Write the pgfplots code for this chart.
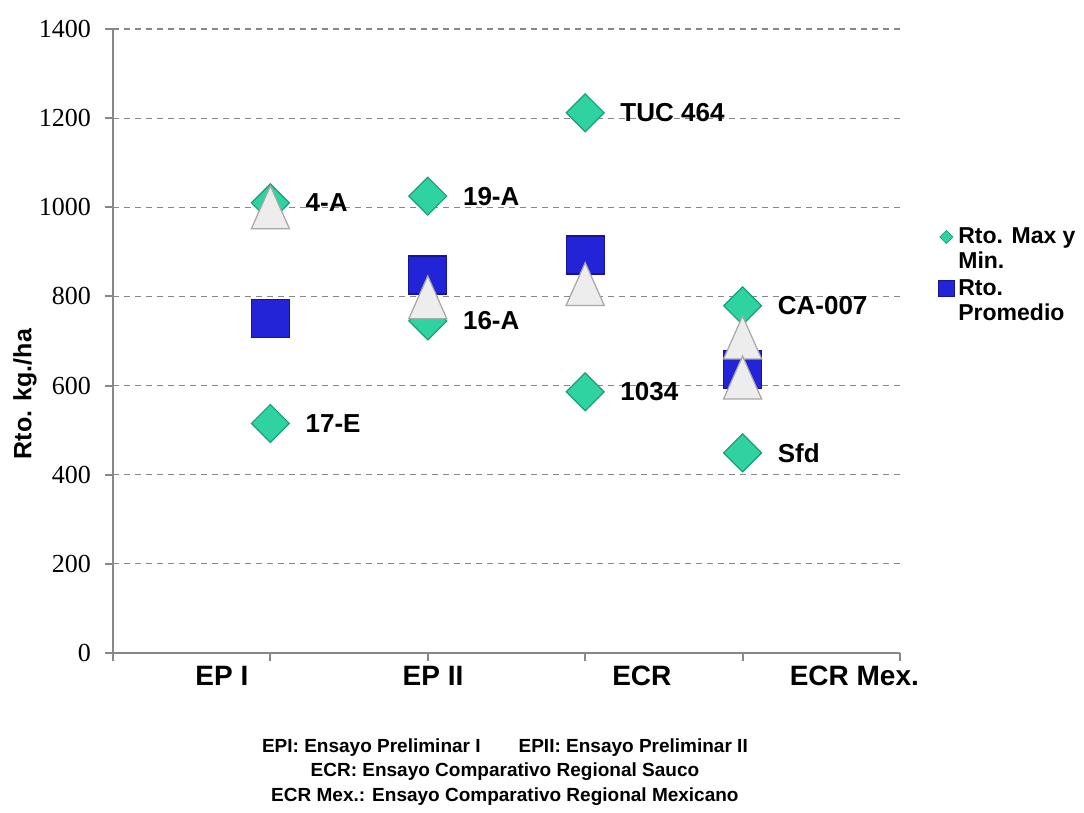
\documentclass[border=0pt]{standalone}
\usepackage{pgfplots}
\pgfplotsset{compat=1.18}
\usepackage{fontspec}
\setmainfont{Liberation Sans}
\newfontfamily\numfont{Liberation Serif}

\definecolor{mintgreen}{HTML}{2FD3A1}
\definecolor{mintedge}{HTML}{1B9E77}
\definecolor{avgblue}{HTML}{2323D8}
\definecolor{avgedge}{HTML}{15159A}
\definecolor{trifill}{HTML}{EDEDED}
\definecolor{triedge}{HTML}{A6A6A6}
\definecolor{axisgray}{HTML}{878787}

% max / min yield per trial, with the line name
\pgfplotstableread[col sep=comma, row sep=\\]{
x,y,label\\
1,1010,4-A\\
1,515,17-E\\
2,1025,19-A\\
2,745,16-A\\
3,1212,TUC 464\\
3,586,1034\\
4,779,CA-007\\
4,449,Sfd\\
}\extremes

% mean yield per trial
\pgfplotstableread[row sep=\\]{
x y\\
1 750\\
2 848\\
3 893\\
4 636\\
}\promedio

% grey triangles (not in legend)
\pgfplotstableread[row sep=\\]{
x y\\
1 1000\\
2 798\\
3 828\\
4 708\\
4 618\\
}\triang

\begin{document}
\begin{tikzpicture}
\begin{axis}[
  name=ax,
  scale only axis, width=393.5pt, height=312pt,
  xmin=0, xmax=5, ymin=0, ymax=1400,
  xtick={0,1,2,3,4,5}, xticklabels={},
  ytick={0,200,...,1400},
  axis x line*=bottom, axis y line*=left,
  axis line style={axisgray, line width=1pt},
  tick style={axisgray, line width=1pt},
  tick align=outside, major tick length=4pt,
  ymajorgrids,
  grid style={axisgray, dash pattern=on 3pt off 2.5pt, line width=0.6pt},
  /pgf/number format/assume math mode=true,
  /pgf/number format/set thousands separator={},
  yticklabel style={font=\numfont\fontsize{13}{13}\selectfont, xshift=-3.5pt},
  ylabel={Rto. kg./ha},
  ylabel style={font=\bfseries\fontsize{12.5}{14}\selectfont,
    at={(axis description cs:-0.112,0.415)}, anchor=center},
  clip=false,
  legend style={at={(axis description cs:1.0457,0.692)}, anchor=north west,
    draw=none, fill=none, font=\bfseries\fontsize{11.5}{12.5}\selectfont,
    cells={align=left}, row sep=0pt, inner sep=1pt},
  legend cell align=left,
]
\addplot[only marks, mark=square*, mark size=6.7pt,
  mark options={rotate=45, fill=mintgreen, draw=mintedge, line width=0.6pt},
  point meta=explicit symbolic, nodes near coords,
  nodes near coords style={anchor=west, xshift=14pt, text=black,
    font=\bfseries\fontsize{13}{13}\selectfont},
  forget plot] table[x=x, y=y, meta=label]{\extremes};

\addplot[only marks, mark=square*, mark size=9.5pt,
  mark options={fill=avgblue, draw=avgedge, line width=0.6pt},
  forget plot] table[x=x, y=y]{\promedio};

\addplot[only marks, mark=triangle*, mark size=11pt,
  mark options={yshift=-3.6pt, yscale=1.3, fill=trifill, draw=triedge, line width=0.6pt},
  forget plot] table[x=x, y=y]{\triang};

\addlegendimage{only marks, mark=square*, mark size=2.3pt,
  mark options={yshift=6.25pt, rotate=45, fill=mintgreen, draw=mintedge}}
\addlegendentry{Rto. Max y\\Min.}
\addlegendimage{only marks, mark=square*, mark size=4pt,
  mark options={yshift=6.25pt, fill=avgblue, draw=avgedge}}
\addlegendentry{Rto.\\Promedio}

\node[font=\bfseries\fontsize{14}{14}\selectfont, yshift=-11.5pt] at (axis cs:0.692,0) {EP I};
\node[font=\bfseries\fontsize{14}{14}\selectfont, yshift=-11.5pt] at (axis cs:2.033,0) {EP II};
\node[font=\bfseries\fontsize{14}{14}\selectfont, yshift=-11.5pt] at (axis cs:3.36,0) {ECR};
\node[font=\bfseries\fontsize{14}{14}\selectfont, yshift=-11.5pt] at (axis cs:4.71,0) {ECR Mex.};

\node[font=\bfseries\fontsize{9.5}{12.25}\selectfont, align=center, yshift=-59.5pt]
  at (axis cs:2.49,0)
  {EPI: Ensayo Preliminar I\hspace{2em}EPII: Ensayo Preliminar II\\
   ECR: Ensayo Comparativo Regional Sauco\\
   ECR Mex.: Ensayo Comparativo Regional Mexicano};
\end{axis}
\path ([shift={(-56.5pt,-78.5pt)}]ax.south west) rectangle ([shift={(92pt,14.5pt)}]ax.north east);
\end{tikzpicture}
\end{document}
